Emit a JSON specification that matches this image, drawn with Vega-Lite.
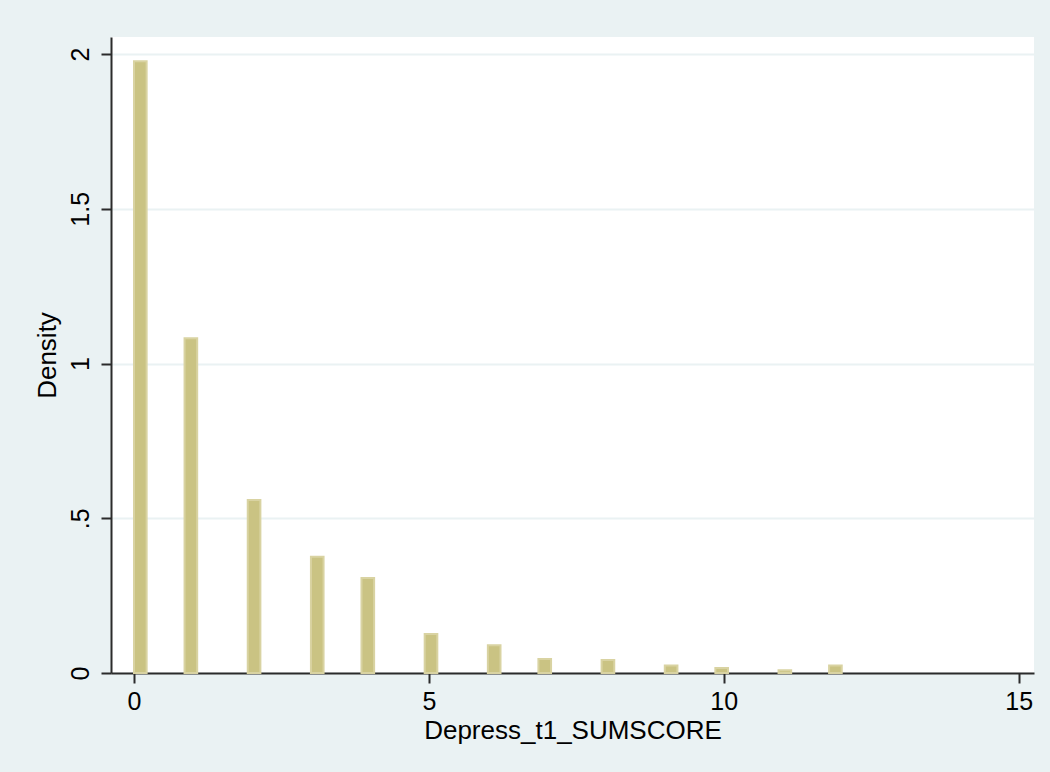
{
  "$schema": "https://vega.github.io/schema/vega-lite/v6.json",
  "width": 923,
  "height": 636,
  "autosize": {"type": "none"},
  "padding": {"left": 111, "top": 37, "right": 16, "bottom": 99},
  "background": "#EAF2F3",
  "config": {
    "font": "Liberation Sans",
    "view": {"fill": "white", "stroke": null},
    "axis": {
      "domainColor": "#2b2b2b",
      "domainWidth": 2,
      "tickColor": "#2b2b2b",
      "tickWidth": 2,
      "tickSize": 10,
      "labelFont": "Liberation Sans",
      "labelFontSize": 25,
      "labelColor": "#000000",
      "titleFont": "Liberation Sans",
      "titleFontSize": 26,
      "titleFontWeight": "normal",
      "titleColor": "#000000"
    }
  },
  "data": {
    "values": [
      {"score": 0, "bin_start": 0.0, "bin_end": 0.2143, "density": 1.977},
      {"score": 1, "bin_start": 0.8571, "bin_end": 1.0714, "density": 1.082},
      {"score": 2, "bin_start": 1.9286, "bin_end": 2.1429, "density": 0.559},
      {"score": 3, "bin_start": 3.0, "bin_end": 3.2143, "density": 0.376},
      {"score": 4, "bin_start": 3.8571, "bin_end": 4.0714, "density": 0.307},
      {"score": 5, "bin_start": 4.9286, "bin_end": 5.1429, "density": 0.126},
      {"score": 6, "bin_start": 6.0, "bin_end": 6.2143, "density": 0.09},
      {"score": 7, "bin_start": 6.8571, "bin_end": 7.0714, "density": 0.045},
      {"score": 8, "bin_start": 7.9286, "bin_end": 8.1429, "density": 0.042},
      {"score": 9, "bin_start": 9.0, "bin_end": 9.2143, "density": 0.024},
      {"score": 10, "bin_start": 9.8571, "bin_end": 10.0714, "density": 0.016},
      {"score": 11, "bin_start": 10.9286, "bin_end": 11.1429, "density": 0.009},
      {"score": 12, "bin_start": 11.7857, "bin_end": 12.0, "density": 0.024}
    ]
  },
  "mark": {"type": "rect", "fill": "#CAC383", "stroke": "#D9D3A2", "strokeWidth": 2},
  "encoding": {
    "x": {
      "field": "bin_start",
      "type": "quantitative",
      "title": "Depress_t1_SUMSCORE",
      "scale": {"domain": [-0.39, 15.26], "nice": false, "zero": false},
      "axis": {
        "values": [0, 5, 10, 15],
        "grid": false,
        "labelPadding": 6,
        "labelFlush": false,
        "titlePadding": 3
      }
    },
    "x2": {"field": "bin_end"},
    "y": {
      "field": "density",
      "type": "quantitative",
      "title": "Density",
      "scale": {"domain": [0, 2.055], "nice": false},
      "axis": {
        "values": [0, 0.5, 1, 1.5, 2],
        "format": ".1~f",
        "labelExpr": "datum.value == 0.5 ? '.5' : datum.label",
        "labelAngle": -90,
        "labelAlign": "center",
        "labelBaseline": "bottom",
        "labelPadding": 8,
        "labelFlush": false,
        "grid": true,
        "gridColor": "#EAF2F3",
        "gridWidth": 2,
        "titlePadding": 8
      }
    },
    "y2": {"datum": 0}
  }
}
